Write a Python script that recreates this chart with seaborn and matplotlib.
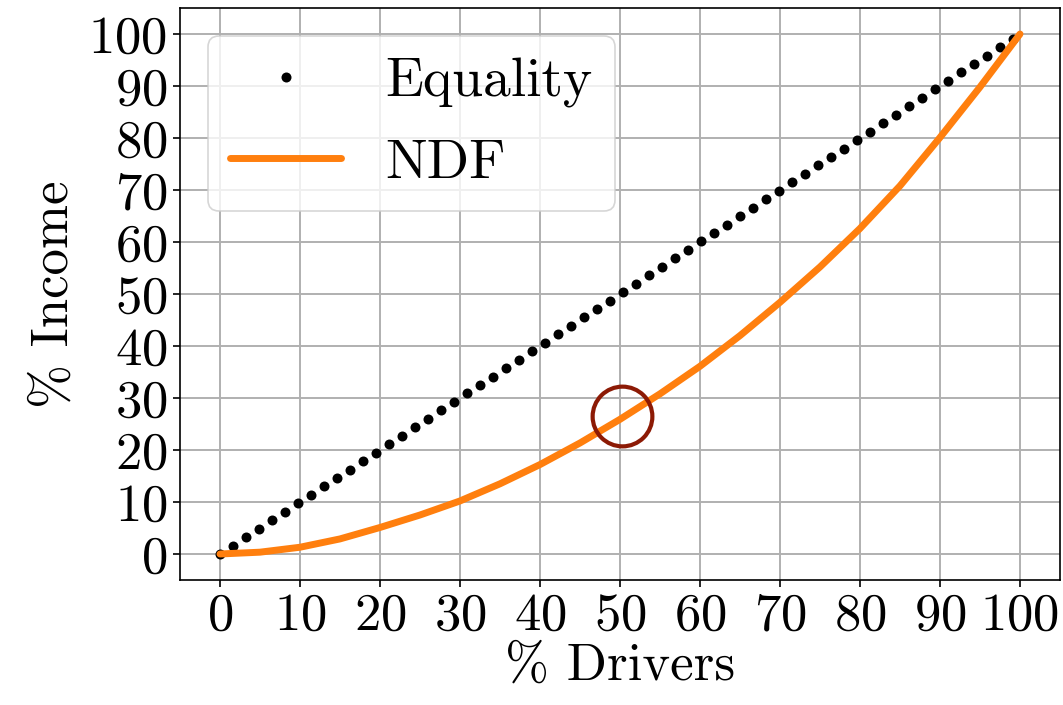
import numpy as np
import pandas as pd
import matplotlib
matplotlib.use("Agg")
import matplotlib.pyplot as plt
import seaborn as sns

# ---- data ----
equality_x = np.linspace(0, 99.1, 62)          # equality line: income share == driver share
equality_y = equality_x.copy()

ndf_x = [0, 5, 10, 15, 20, 25, 30, 35, 40, 45, 50, 55, 60, 65, 70, 75, 80, 85, 90, 95, 100]
ndf_y = [0, 0.35, 1.3, 2.9, 5.1, 7.5, 10.2, 13.5, 17.2, 21.35, 25.9, 30.8, 36.1, 42.0,
         48.4, 55.2, 62.6, 70.8, 80.1, 89.8, 100]

highlight_x = [50.2]
highlight_y = [26.5]

x_ticks = list(range(0, 101, 10))
y_ticks = list(range(0, 101, 10))

# ---- style ----
sns.set_style("ticks", {"axes.grid": True, "grid.color": "#b0b0b0",
                        "axes.edgecolor": "black"})
plt.rcParams["font.family"] = ["cmr10", "DejaVu Serif"]
plt.rcParams["mathtext.fontset"] = "cm"
plt.rcParams["axes.formatter.use_mathtext"] = True
plt.rcParams["axes.unicode_minus"] = False
for k in ["text.color", "axes.labelcolor", "xtick.color", "ytick.color"]:
    plt.rcParams[k] = "black"

fig = plt.figure(figsize=(10.63, 7.05), dpi=100)
ax = fig.add_axes([180 / 1063, 1 - 580 / 705, 880 / 1063, 572 / 705])

eq_df = pd.DataFrame({"x": equality_x, "y": equality_y})
ndf_df = pd.DataFrame({"x": ndf_x, "y": ndf_y})

ax.plot(eq_df["x"], eq_df["y"], linestyle="none", marker="o", markersize=7.2,
        color="black", markeredgewidth=0, label="Equality", zorder=2)
sns.lineplot(data=ndf_df, x="x", y="y", ax=ax, color="#ff7f0e", linewidth=5,
             label="NDF", zorder=3)
ax.plot(highlight_x, highlight_y, linestyle="none", marker="o", markersize=43,
        markerfacecolor="none", markeredgecolor="#8c1a05", markeredgewidth=3,
        zorder=4)

ax.set_xlim(-5, 105)
ax.set_ylim(-5, 105)
ax.set_xticks(x_ticks)
ax.set_yticks(y_ticks)
ax.grid(True, color="#b0b0b0", linewidth=1.4)
ax.set_axisbelow(True)

ax.tick_params(axis="both", which="major", labelsize=38, direction="out",
               length=5, width=1.2, color="black", labelcolor="black", pad=4)
for s in ax.spines.values():
    s.set_color("black")
    s.set_linewidth(1.2)

ax.set_xlabel("% Drivers", fontsize=38, labelpad=2, color="black")
ax.set_ylabel("% Income", fontsize=38, labelpad=8, color="black")

leg = ax.legend(loc="upper left", fontsize=40, frameon=True, fancybox=True,
                framealpha=0.8, edgecolor="#cccccc", handlelength=2.0,
                borderaxespad=0.5, numpoints=1, labelspacing=0.55)
leg.get_frame().set_linewidth(1.2)
for t in leg.get_texts():
    t.set_color("black")

fig.savefig("out.png", dpi=100)
